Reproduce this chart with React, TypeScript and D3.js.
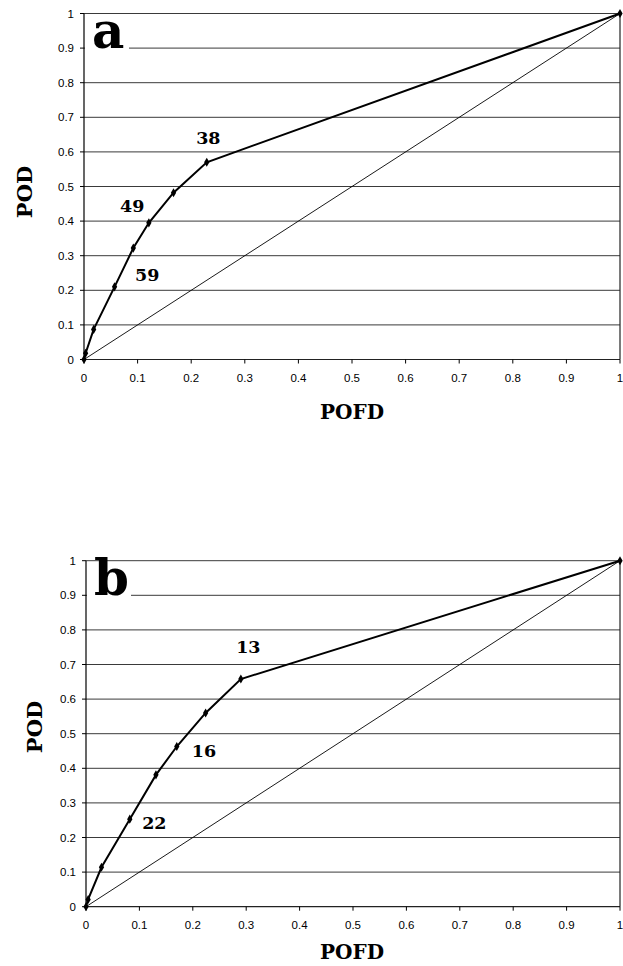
import React from "react";
import * as d3 from "d3";

const ticks = [0, 0.1, 0.2, 0.3, 0.4, 0.5, 0.6, 0.7, 0.8, 0.9, 1];
const tickLabels = ["0", "0.1", "0.2", "0.3", "0.4", "0.5", "0.6", "0.7", "0.8", "0.9", "1"];

const podA = [0, 0.018, 0.087, 0.21, 0.322, 0.395, 0.482, 0.57, 1];
const pofdA = [0, 0.003, 0.018, 0.057, 0.092, 0.121, 0.167, 0.229, 1];
const annA = [
  { text: "38", x: 0.232, y: 0.64 },
  { text: "49", x: 0.09, y: 0.445 },
  { text: "59", x: 0.118, y: 0.245 },
];

const podB = [0, 0.021, 0.114, 0.253, 0.381, 0.463, 0.56, 0.658, 1];
const pofdB = [0, 0.004, 0.029, 0.082, 0.131, 0.17, 0.224, 0.29, 1];
const annB = [
  { text: "13", x: 0.304, y: 0.75 },
  { text: "16", x: 0.221, y: 0.45 },
  { text: "22", x: 0.128, y: 0.242 },
];

const serif = "'DejaVu Serif', serif";
const sans = "'Liberation Sans', Arial, sans-serif";

function Panel({ letter, pod, pofd, ann, x0, x1, yTop, yBot, podX, podY, pofdY }) {
  const x = d3.scaleLinear().domain([0, 1]).range([x0, x1]);
  const y = d3.scaleLinear().domain([0, 1]).range([yBot, yTop]);
  const pts = pofd.map((p, i) => [p, pod[i]]);
  const line = d3.line().x((d) => x(d[0])).y((d) => y(d[1]));
  const diamond = d3.symbol().type(d3.symbolDiamond).size(24)();
  return (
    <g>
      {ticks.slice(1).map((t) => (
        <line key={"g" + t} x1={x(0)} x2={x(1)} y1={y(t)} y2={y(t)} stroke="#3a3a3a" strokeWidth={1} />
      ))}
      <line x1={x(1)} x2={x(1)} y1={y(0)} y2={y(1)} stroke="#222" strokeWidth={1.2} />
      <rect x={x(0) + 1} y={y(1) + 3} width={44} height={36} fill="#fff" />
      <text x={x(0) + 8} y={y(1) + 34} fontFamily={serif} fontWeight="bold" fontSize={50} fill="#000">
        {letter}
      </text>
      <line x1={x(0)} x2={x(0)} y1={y(0)} y2={y(1)} stroke="#000" strokeWidth={1.2} />
      <line x1={x(0)} x2={x(1)} y1={y(0)} y2={y(0)} stroke="#222" strokeWidth={1.2} />
      {ticks.map((t, i) => (
        <g key={"y" + t}>
          <line x1={x(0) - 4} x2={x(0)} y1={y(t)} y2={y(t)} stroke="#000" />
          <text x={x(0) - 10} y={y(t) + 4} textAnchor="end" fontFamily={sans} fontSize={11.5} fill="#000">
            {tickLabels[i]}
          </text>
        </g>
      ))}
      {ticks.map((t, i) => (
        <g key={"x" + t}>
          <line x1={x(t)} x2={x(t)} y1={y(0)} y2={y(0) + 4} stroke="#000" />
          <text x={x(t)} y={y(0) + 22} textAnchor="middle" fontFamily={sans} fontSize={11.5} fill="#000">
            {tickLabels[i]}
          </text>
        </g>
      ))}
      <line x1={x(0)} y1={y(0)} x2={x(1)} y2={y(1)} stroke="#000" strokeWidth={0.9} />
      <path d={line(pts)} fill="none" stroke="#000" strokeWidth={2} />
      {pts.map((d, i) => (
        <path key={"p" + i} d={diamond} transform={`translate(${x(d[0])},${y(d[1])})`} fill="#000" />
      ))}
      {ann.map((a) => (
        <text key={a.text} x={x(a.x)} y={y(a.y) + 6} textAnchor="middle" fontFamily={serif} fontWeight="bold" fontSize={17.5} fill="#000">
          {a.text}
        </text>
      ))}
      <text
        transform={`translate(${podX},${podY}) rotate(-90)`}
        textAnchor="middle"
        fontFamily={serif}
        fontWeight="bold"
        fontSize={21}
        fill="#000"
      >
        POD
      </text>
      <text x={352} y={pofdY} textAnchor="middle" fontFamily={serif} fontWeight="bold" fontSize={20} fill="#000">
        POFD
      </text>
    </g>
  );
}

export default function App() {
  return (
    <svg
      width={623}
      height={966}
      style={{ position: "absolute", left: 0, top: 0, background: "#fff" }}
    >
      <rect width={623} height={966} fill="#fff" />
      <Panel letter="a" pod={podA} pofd={pofdA} ann={annA} x0={84} x1={620} yTop={13.5} yBot={359.5} podX={32} podY={192} pofdY={419} />
      <Panel letter="b" pod={podB} pofd={pofdB} ann={annB} x0={86} x1={620} yTop={560.7} yBot={906.7} podX={42} podY={727} pofdY={959} />
    </svg>
  );
}
